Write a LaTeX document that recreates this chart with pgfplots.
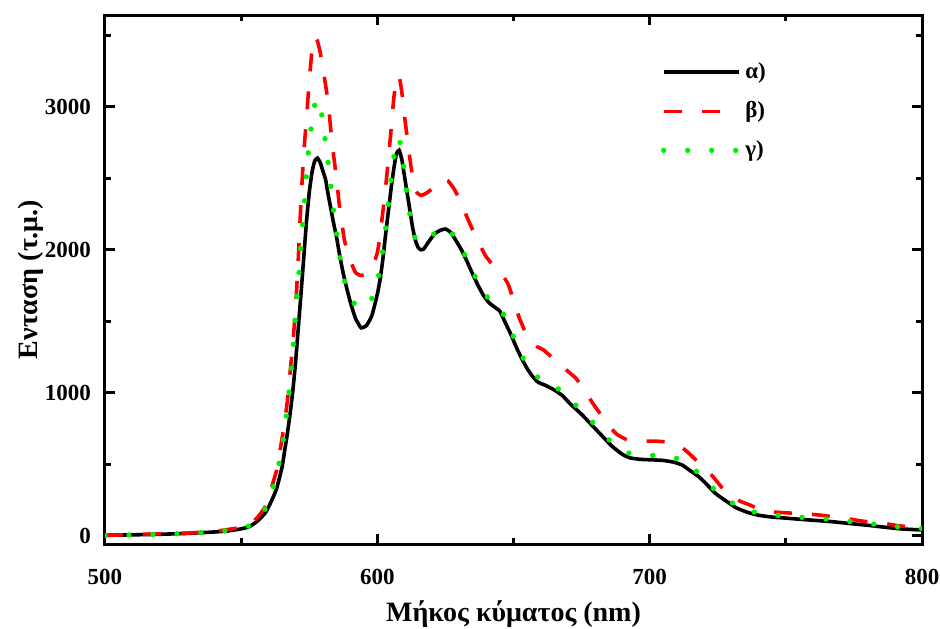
\documentclass[border=0pt]{standalone}
\usepackage{fontspec}
\setmainfont{Liberation Serif}
\usepackage{pgfplots}
\pgfplotsset{compat=1.18}
\definecolor{myred}{RGB}{255,0,0}
\definecolor{mygreen}{RGB}{0,240,0}
\begin{document}
\begin{tikzpicture}
\useasboundingbox (-52.5pt,-42pt) rectangle (417.5pt,272pt);
\begin{axis}[
  at={(0,0)}, anchor=south west,
  scale only axis, width=408.5pt, height=264.5pt,
  xmin=500, xmax=800, ymin=-56, ymax=3640,
  xtick={500,600,700,800}, ytick={0,1000,2000,3000},
  minor xtick={550,650,750}, minor ytick={500,1500,2500,3500},
  tick align=inside, major tick length=5pt, minor tick length=3pt,
  every tick/.style={line width=1.5pt, black},
  axis line style={line width=1.5pt},
  /pgf/number format/assume math mode=true,
  /pgf/number format/1000 sep={},
  ticklabel style={font=\fontsize{11.5}{12}\selectfont\bfseries},
  xticklabel style={yshift=-9pt},
  yticklabel style={xshift=-3.5pt},
  xlabel={\fontsize{14}{15}\selectfont\bfseries Μήκος κύματος (nm)},
  ylabel={\fontsize{14}{15}\selectfont\bfseries Ενταση (τ.μ.)},
  xlabel style={yshift=-1pt},
  ylabel style={yshift=-6pt},
  legend style={draw=none, fill=none, at={(0.680,0.918)}, anchor=north west,
    font=\fontsize{11.5}{12}\selectfont\bfseries, row sep=6pt, inner sep=0pt},
  legend cell align=left,
  legend image code/.code={\draw[#1] (0pt,0pt) -- (37.5pt,0pt);},
]
\addplot[black, line width=1.8pt, smooth, tension=0.3] coordinates {
(500,5)(510,8)(520,12)(530,18)(540,28)(545,35)(550,50)(553,65)(556,105)(559,165)(561,240)(563,330)(565,480)(566,600)(567,720)(568,860)(569,1020)(570,1220)(571,1460)(572,1700)(573,1950)(574,2200)(575,2400)(576,2540)(577,2620)(578,2640)(579,2610)(580,2550)(581,2490)(582,2380)(583,2280)(584,2180)(585,2090)(586,1980)(587,1880)(588,1790)(590,1640)(592,1520)(594,1455)(596,1470)(598,1540)(600,1690)(601,1790)(602,1930)(603,2100)(604,2260)(605,2420)(606,2560)(607,2670)(608,2695)(609,2630)(610,2510)(611,2390)(612,2270)(613,2150)(614,2065)(615,2015)(616,2000)(617,2005)(619,2060)(621,2110)(623,2135)(625,2145)(627,2120)(629,2060)(631,1995)(633,1915)(635,1830)(637,1750)(639,1680)(641,1630)(643,1600)(645,1570)(647,1490)(649,1410)(651,1320)(653,1240)(655,1170)(657,1115)(659,1075)(662,1050)(665,1020)(668,980)(671,920)(675,850)(678,790)(682,710)(686,630)(690,570)(693,545)(697,535)(701,532)(705,528)(709,515)(712,495)(715,455)(718,415)(721,360)(724,300)(728,245)(732,195)(736,165)(740,145)(745,132)(750,125)(755,117)(760,110)(767,100)(773,88)(780,75)(786,62)(792,50)(800,42)
};
\addlegendentry{α)}
\addplot[myred, line width=1.8pt, dash pattern=on 9pt off 10pt, smooth, tension=0.3] coordinates {
(500,5)(510,10)(520,15)(530,20)(540,32)(545,45)(550,60)(553,80)(556,130)(559,210)(561,330)(563,460)(565,680)(566,800)(567,950)(568,1150)(569,1350)(570,1600)(571,1950)(572,2350)(573,2680)(574,2920)(575,3180)(576,3390)(577,3485)(578,3460)(579,3380)(580,3270)(581,3150)(582,3020)(583,2820)(584,2650)(585,2500)(586,2320)(587,2180)(588,2060)(590,1930)(592,1840)(594,1820)(596,1830)(598,1870)(600,1980)(601,2100)(602,2260)(603,2430)(604,2620)(605,2830)(606,3050)(607,3190)(608,3215)(609,3100)(610,2930)(611,2780)(612,2630)(613,2500)(614,2410)(616,2380)(618,2395)(620,2425)(622,2465)(624,2490)(626,2480)(628,2430)(630,2360)(632,2270)(634,2180)(636,2100)(638,2020)(640,1950)(643,1880)(646,1820)(648,1760)(650,1650)(652,1530)(654,1440)(656,1380)(658,1330)(661,1300)(664,1250)(667,1200)(670,1150)(673,1100)(676,1020)(679,930)(682,850)(685,770)(688,710)(692,670)(697,663)(702,663)(707,655)(711,630)(714,585)(717,530)(720,470)(723,420)(726,350)(729,290)(733,245)(737,215)(741,180)(745,168)(750,162)(756,155)(762,147)(767,135)(772,123)(777,107)(782,95)(786,88)(792,70)(800,60)
};
\addlegendentry{β)}
\addplot[mygreen, line width=2.7pt, line cap=round, dash pattern=on 0pt off 12pt, smooth, tension=0.3] coordinates {
(500,3)(510,8)(520,12)(530,18)(540,30)(545,38)(550,55)(553,72)(556,120)(559,195)(561,300)(563,420)(565,620)(566,750)(567,900)(568,1080)(569,1300)(570,1550)(571,1780)(572,2050)(573,2270)(574,2540)(575,2750)(576,2900)(577,3010)(578,3055)(579,3000)(580,2900)(581,2740)(582,2600)(583,2430)(584,2260)(585,2120)(586,1980)(587,1870)(588,1780)(590,1680)(592,1610)(594,1590)(596,1610)(598,1660)(600,1770)(601,1880)(602,2000)(603,2140)(604,2310)(605,2480)(606,2640)(607,2740)(608,2780)(609,2680)(610,2530)(611,2380)(612,2240)(613,2130)(614,2080)(616,2050)(618,2060)(620,2095)(622,2135)(624,2155)(626,2150)(628,2100)(630,2040)(632,1970)(634,1890)(636,1810)(638,1735)(640,1680)(642,1640)(644,1610)(646,1560)(648,1470)(650,1390)(652,1305)(654,1225)(656,1165)(658,1125)(660,1095)(663,1070)(666,1035)(669,985)(672,930)(675,875)(678,815)(682,735)(686,655)(690,600)(693,575)(697,565)(701,563)(705,560)(709,548)(712,525)(715,483)(718,440)(721,385)(724,320)(728,262)(732,210)(736,180)(740,160)(745,147)(750,140)(755,132)(760,125)(767,115)(773,102)(780,88)(786,75)(792,62)(800,52)
};
\addlegendentry{γ)}
\end{axis}
\end{tikzpicture}
\end{document}
